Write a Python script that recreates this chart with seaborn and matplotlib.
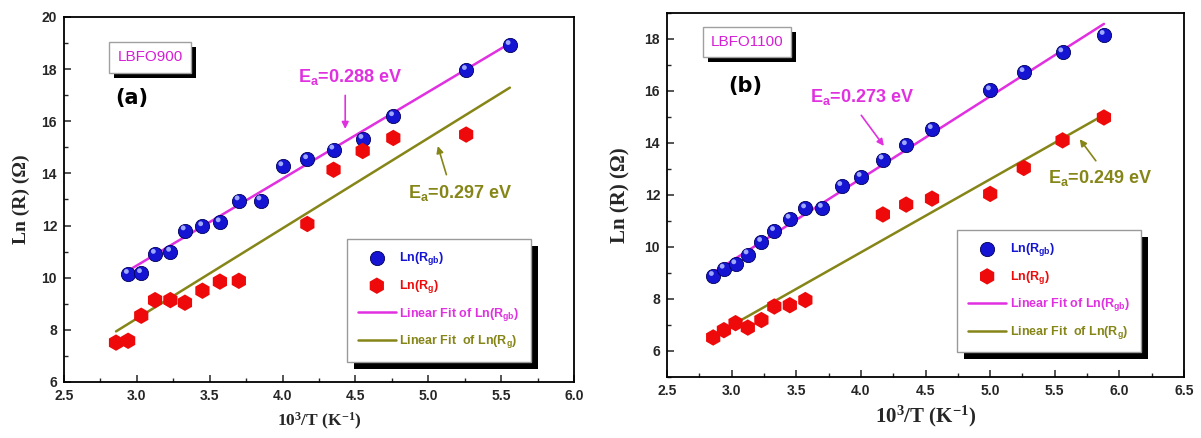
import numpy as np
import pandas as pd
import seaborn as sns
import matplotlib
matplotlib.use("Agg")
import matplotlib.pyplot as plt
from matplotlib.patches import Rectangle
from matplotlib.ticker import MultipleLocator, FormatStrFormatter

sns.set_style("ticks")
plt.rcParams["font.family"] = ["Liberation Sans", "DejaVu Sans"]
plt.rcParams["mathtext.default"] = "regular"

# ---------------- data: panel (a) LBFO900 ----------------
a_gb_x = [2.94, 3.03, 3.125, 3.23, 3.33, 3.45, 3.57, 3.70, 3.85, 4.00, 4.17, 4.35, 4.55, 4.76, 5.26, 5.56]
a_gb_y = [10.14, 10.17, 10.91, 10.99, 11.81, 11.97, 12.12, 12.96, 12.96, 14.27, 14.54, 14.91, 15.32, 16.19, 17.96, 18.92]
a_g_x = [2.857, 2.94, 3.03, 3.125, 3.23, 3.33, 3.45, 3.57, 3.70, 4.17, 4.35, 4.55, 4.76, 5.26]
a_g_y = [7.51, 7.58, 8.54, 9.14, 9.14, 9.04, 9.50, 9.85, 9.88, 12.06, 14.14, 14.86, 15.36, 15.49]
a_fit_gb_x = [2.94, 5.56]
a_fit_gb_y = [10.27, 18.99]
a_fit_g_x = [2.857, 5.56]
a_fit_g_y = [7.94, 17.29]

# ---------------- data: panel (b) LBFO1100 ----------------
b_gb_x = [2.857, 2.94, 3.03, 3.125, 3.23, 3.33, 3.45, 3.57, 3.70, 3.85, 4.00, 4.17, 4.35, 4.55, 5.00, 5.26, 5.56, 5.88]
b_gb_y = [8.88, 9.16, 9.33, 9.71, 10.19, 10.61, 11.08, 11.48, 11.50, 12.34, 12.69, 13.36, 13.91, 14.53, 16.02, 16.72, 17.48, 18.15]
b_g_x = [2.857, 2.94, 3.03, 3.125, 3.23, 3.33, 3.45, 3.57, 4.17, 4.35, 4.55, 5.00, 5.26, 5.56, 5.88]
b_g_y = [6.52, 6.80, 7.07, 6.90, 7.19, 7.71, 7.76, 7.96, 11.25, 11.63, 11.86, 12.04, 13.04, 14.10, 14.98]
b_fit_gb_x = [2.857, 5.88]
b_fit_gb_y = [9.01, 18.58]
b_fit_g_x = [2.857, 5.88]
b_fit_g_y = [6.58, 15.08]

lbl_gb = "Ln(R$_{gb}$)"
lbl_g = "Ln(R$_{g}$)"
lbl_fit_gb = "Linear Fit of Ln(R$_{gb}$)"
lbl_fit_g = "Linear Fit  of Ln(R$_{g}$)"

C_BLUE = "#1414d2"
C_RED = "#ee0a0a"
C_MAG = "#e030e0"
C_OLV = "#858518"

fig = plt.figure(figsize=(12.01, 4.38), dpi=100)
axA = fig.add_axes([0.0533, 0.1279, 0.4246, 0.8333])
axB = fig.add_axes([0.5554, 0.1393, 0.4305, 0.8311])


def draw_panel(ax, gbx, gby, gx, gy, fgx, fgy, fx, fy, xlim, ylim):
    sns.lineplot(x=fgx, y=fgy, ax=ax, color=C_MAG, lw=1.8, label=lbl_fit_gb, zorder=2)
    sns.lineplot(x=fx, y=fy, ax=ax, color=C_OLV, lw=1.8, label=lbl_fit_g, zorder=2)
    sns.scatterplot(x=gbx, y=gby, ax=ax, color=C_BLUE, marker="o", s=105,
                    edgecolor="#00005a", linewidth=0.6, label=lbl_gb, zorder=3)
    # small highlight on the spheres
    ax.scatter(np.array(gbx) - 0.012 * (xlim[1] - xlim[0]) / 3.5, np.array(gby) + 0.10,
               s=12, color="#9fa8ff", edgecolor="none", zorder=4)
    sns.scatterplot(x=gx, y=gy, ax=ax, color=C_RED, marker="h", s=140,
                    edgecolor="none", label=lbl_g, zorder=3)
    ax.set_xlim(*xlim)
    ax.set_ylim(*ylim)
    ax.xaxis.set_major_locator(MultipleLocator(0.5))
    ax.xaxis.set_minor_locator(MultipleLocator(0.25))
    ax.yaxis.set_major_locator(MultipleLocator(2))
    ax.yaxis.set_minor_locator(MultipleLocator(1))
    ax.xaxis.set_major_formatter(FormatStrFormatter("%.1f"))
    ax.yaxis.set_major_formatter(FormatStrFormatter("%d"))
    ax.tick_params(which="major", direction="in", length=5, width=1.1, labelsize=10,
                   top=False, right=False, pad=5)
    ax.tick_params(which="minor", direction="in", length=3, width=1.0, top=False, right=False)
    for lab in ax.get_xticklabels() + ax.get_yticklabels():
        lab.set_fontweight("bold")
    for sp in ax.spines.values():
        sp.set_visible(True)
        sp.set_linewidth(1.3)
        sp.set_color("black")

    handles, labels = ax.get_legend_handles_labels()
    order = [labels.index(l) for l in [lbl_gb, lbl_g, lbl_fit_gb, lbl_fit_g]]
    leg = ax.legend([handles[i] for i in order], [labels[i] for i in order],
                    fontsize=9, frameon=True, fancybox=False, framealpha=1,
                    edgecolor="#9a9a9a", handlelength=3.0, labelspacing=0.85,
                    borderpad=0.9, handletextpad=0.3, borderaxespad=0,
                    prop={"size": 9, "weight": "semibold"})
    for txt, col in zip(leg.get_texts(), [C_BLUE, C_RED, C_MAG, C_OLV]):
        txt.set_color(col)
    leg.get_frame().set_linewidth(1.0)
    return leg


legA = draw_panel(axA, a_gb_x, a_gb_y, a_g_x, a_g_y, a_fit_gb_x, a_fit_gb_y,
                  a_fit_g_x, a_fit_g_y, (2.5, 6.0), (6, 20))
legB = draw_panel(axB, b_gb_x, b_gb_y, b_g_x, b_g_y, b_fit_gb_x, b_fit_gb_y,
                  b_fit_g_x, b_fit_g_y, (2.5, 6.5), (5, 19))

legA.set_bbox_to_anchor((0.543, 0.066, 0.384, 0.315), transform=axA.transAxes)
legA._loc = 10
legB.set_bbox_to_anchor((0.553, 0.074, 0.372, 0.324), transform=axB.transAxes)
legB._loc = 10

axA.set_ylabel("Ln (R) (\u03a9)", fontsize=14, fontweight="bold",
               family=["Liberation Serif", "DejaVu Serif"], labelpad=8)
axA.set_xlabel("10$^3$/T (K$^{-1}$)", fontsize=12.5, fontweight="bold",
               family=["Liberation Serif", "DejaVu Serif"], labelpad=6)
axB.set_ylabel("Ln (R) (\u03a9)", fontsize=15, fontweight="bold",
               family=["Liberation Serif", "DejaVu Serif"], labelpad=10)
axB.set_xlabel("10$^3$/T (K$^{-1}$)", fontsize=15, fontweight="bold",
               family=["Liberation Serif", "DejaVu Serif"], labelpad=4)

# sample name boxes and panel letters
boxA = axA.text(0.169, 0.890, "LBFO900", transform=axA.transAxes, ha="center", va="center",
                fontsize=11, color="#d61ed6",
                bbox=dict(boxstyle="square,pad=0.55", fc="white", ec="#a0a0a0", lw=1.0), zorder=6)
boxB = axB.text(0.155, 0.920, "LBFO1100", transform=axB.transAxes, ha="center", va="center",
                fontsize=11, color="#d61ed6",
                bbox=dict(boxstyle="square,pad=0.5", fc="white", ec="#a0a0a0", lw=1.0), zorder=6)
axA.text(0.133, 0.778, "(a)", transform=axA.transAxes, ha="center", va="center",
         fontsize=15, fontweight="bold", family="DejaVu Sans", color="black")
axB.text(0.151, 0.800, "(b)", transform=axB.transAxes, ha="center", va="center",
         fontsize=15, fontweight="bold", family="DejaVu Sans", color="black")

# activation energy labels and arrows
ann = dict(fontsize=13, fontweight="bold", ha="center", va="center")
axA.text(4.46, 17.7, "E$_a$=0.288 eV", color=C_MAG, **ann)
axA.annotate("", xy=(4.43, 15.6), xytext=(4.43, 17.1),
             arrowprops=dict(arrowstyle="-|>", color=C_MAG, lw=1.2, mutation_scale=10))
axA.text(5.22, 13.23, "E$_a$=0.297 eV", color=C_OLV, **ann)
axA.annotate("", xy=(5.06, 15.15), xytext=(5.13, 13.85),
             arrowprops=dict(arrowstyle="-|>", color=C_OLV, lw=1.2, mutation_scale=10))
axB.text(4.01, 15.77, "E$_a$=0.273 eV", color=C_MAG, **ann)
axB.annotate("", xy=(4.19, 13.8), xytext=(3.99, 15.15),
             arrowprops=dict(arrowstyle="-|>", color=C_MAG, lw=1.2, mutation_scale=10))
axB.text(5.85, 12.65, "E$_a$=0.249 eV", color=C_OLV, **ann)
axB.annotate("", xy=(5.68, 14.23), xytext=(5.83, 13.23),
             arrowprops=dict(arrowstyle="-|>", color=C_OLV, lw=1.2, mutation_scale=10))

# black drop shadows behind legend and name boxes
fig.canvas.draw()
renderer = fig.canvas.get_renderer()


def add_shadow(ax, bbox_disp, dx=7, dy=-7, zorder=4.9):
    inv = ax.transAxes.inverted()
    (x0, y0) = inv.transform((bbox_disp.x0 + dx, bbox_disp.y0 + dy))
    (x1, y1) = inv.transform((bbox_disp.x1 + dx, bbox_disp.y1 + dy))
    ax.add_patch(Rectangle((x0, y0), x1 - x0, y1 - y0, transform=ax.transAxes,
                           fc="black", ec="none", zorder=zorder, clip_on=False))


add_shadow(axA, legA.get_window_extent(renderer))
add_shadow(axB, legB.get_window_extent(renderer))
add_shadow(axA, boxA.get_bbox_patch().get_window_extent(renderer), dx=5, dy=-5, zorder=5.5)
add_shadow(axB, boxB.get_bbox_patch().get_window_extent(renderer), dx=5, dy=-5, zorder=5.5)

fig.savefig("out.png", dpi=100)
